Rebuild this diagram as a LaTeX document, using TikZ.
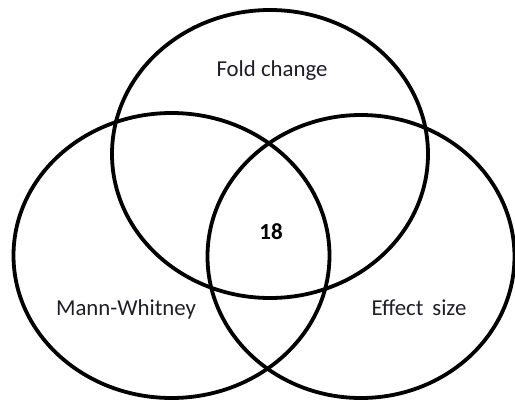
\documentclass[tikz,border=0pt]{standalone}
\usepackage{fontspec}
\setmainfont{Carlito}
\usepackage{tikz}

\definecolor{labelgray}{RGB}{30,30,40}

\begin{document}
\begin{tikzpicture}[x=1pt,y=-1pt]
    \useasboundingbox (0,0) rectangle (515,402);
    \begin{scope}
    \clip (0,0) rectangle (515,402);
    % the three sets
    \draw[line width=3.8pt] (270,154) ellipse [x radius=158, y radius=144];
    \draw[line width=3.8pt] (171.5,255.5) ellipse [x radius=158, y radius=142.5];
    \draw[line width=3.8pt] (361,256.5) ellipse [x radius=153.5, y radius=141.5];
    \end{scope}

    % labels
    \node[text=labelgray, font=\fontsize{22.8}{26}\selectfont, anchor=base] (fold) at (272,76) {Fold change};
    \node[text=labelgray, font=\fontsize{22.8}{26}\selectfont, anchor=base] (mann) at (126,315) {Mann-Whitney};
    \node[text=labelgray, font=\fontsize{22.8}{26}\selectfont, anchor=base] (effect) at (419,315) {Effect\, size};
    \node[font=\fontsize{23}{26}\selectfont\bfseries, anchor=base] (common) at (271,239) {18};
\end{tikzpicture}
\end{document}
